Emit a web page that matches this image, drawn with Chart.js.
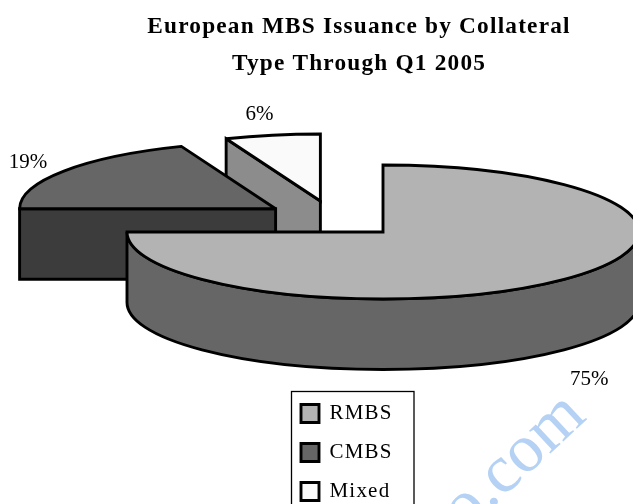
<!DOCTYPE html>
<html><head><meta charset="utf-8">
<style>html,body{margin:0;padding:0;background:#fff;overflow:hidden}canvas{display:block}</style>
<script src="https://cdn.jsdelivr.net/npm/chart.js@4"></script>
</head><body><canvas id="c" width="633" height="504"></canvas>
<script>
const titleLines = ['European MBS Issuance by Collateral', 'Type Through Q1 2005'];
const categories = ['RMBS', 'CMBS', 'Mixed'];
const shares = [75, 19, 6];
const topColors = ['#b3b3b3', '#666666', '#fafafa'];
const sideColors = ['#666666', '#3c3c3c', '#8c8c8c'];
const watermark = 'o.com';

const FONT = '"Liberation Serif", serif';
const SQUASH = 67 / 256, DEPTH = 70.5, EXPLODE = 70, LW = 2.9;
const LABEL_K = [1.14, 1.17, 1.27], LABEL_DY = [94, -2, -3];

function geom(arc) {
  const mid = (arc.startAngle + arc.endAngle) / 2;
  return {
    x: arc.x + EXPLODE * Math.cos(mid),
    y: arc.y + EXPLODE * Math.sin(mid) * SQUASH,
    r: arc.outerRadius, ry: arc.outerRadius * SQUASH,
    a: arc.startAngle, b: arc.endAngle, mid
  };
}
function paint(ctx, fill) {
  ctx.fillStyle = fill; ctx.strokeStyle = '#000'; ctx.lineWidth = LW; ctx.lineJoin = 'miter'; ctx.miterLimit = 2.5;
  ctx.fill(); ctx.stroke();
}
function radialWall(ctx, g, ang, fill) {
  const px = g.x + g.r * Math.cos(ang), py = g.y + g.ry * Math.sin(ang);
  ctx.beginPath();
  ctx.moveTo(g.x, g.y); ctx.lineTo(px, py); ctx.lineTo(px, py + DEPTH); ctx.lineTo(g.x, g.y + DEPTH); ctx.closePath();
  paint(ctx, fill);
}
const pie3d = {
  id: 'pie3d',
  afterLayout(chart) {
    const t = chart.titleBlock; t.left = 85; t.right = 633;
    const l = chart.legend; l.left = 283; l.top = 385; l.right = l.left + l.width; l.bottom = l.top + l.height;
  },
  beforeDraw(chart) { chart.ctx.letterSpacing = '1.2px'; },
  beforeDatasetsDraw(chart) {
    const ctx = chart.ctx, arcs = chart.getDatasetMeta(0).data;
    ctx.letterSpacing = '0px';
    const order = arcs.map((a, i) => i).sort((p, q) => geom(arcs[p]).y - geom(arcs[q]).y);
    ctx.save();
    order.forEach(i => {
      const g = geom(arcs[i]);
      if (Math.sin(g.a - Math.PI / 2) > 1e-6) radialWall(ctx, g, g.a, sideColors[i]);
      if (Math.sin(g.b + Math.PI / 2) > 1e-6) radialWall(ctx, g, g.b, sideColors[i]);
      const s = Math.max(g.a, 0), e = Math.min(g.b, Math.PI);
      if (e > s) {
        ctx.beginPath();
        ctx.ellipse(g.x, g.y, g.r, g.ry, 0, s, e);
        ctx.lineTo(g.x + g.r * Math.cos(e), g.y + g.ry * Math.sin(e) + DEPTH);
        ctx.ellipse(g.x, g.y + DEPTH, g.r, g.ry, 0, e, s, true);
        ctx.closePath();
        paint(ctx, sideColors[i]);
      }
      ctx.beginPath();
      ctx.moveTo(g.x, g.y);
      ctx.ellipse(g.x, g.y, g.r, g.ry, 0, g.a, g.b);
      ctx.closePath();
      paint(ctx, topColors[i]);
    });
    ctx.fillStyle = '#000';
    ctx.font = '21px ' + FONT; ctx.textAlign = 'center'; ctx.textBaseline = 'middle';
    arcs.forEach((arc, i) => {
      const g = geom(arc);
      ctx.fillText(shares[i] + '%',
        g.x + g.r * LABEL_K[i] * Math.cos(g.mid),
        g.y + g.ry * LABEL_K[i] * Math.sin(g.mid) + LABEL_DY[i]);
    });
    ctx.restore();
    return false;
  },
  afterDraw(chart) {
    const ctx = chart.ctx, l = chart.legend;
    ctx.save();
    ctx.strokeStyle = '#000'; ctx.lineWidth = 1.3;
    ctx.strokeRect(l.left + 8.5, l.top + 6.5, 122.5, 140);
    ctx.translate(465, 533);
    ctx.rotate(-43 * Math.PI / 180);
    ctx.fillStyle = '#b5d2f4';
    ctx.font = '68px ' + FONT; ctx.textAlign = 'left'; ctx.textBaseline = 'alphabetic';
    ctx.fillText(watermark, 0, 0);
    ctx.restore();
  }
};
new Chart(document.getElementById('c'), {
  type: 'pie',
  data: { labels: categories, datasets: [{ data: shares, backgroundColor: topColors, borderColor: '#000', borderWidth: LW }] },
  plugins: [pie3d],
  options: {
    responsive: false, animation: false, radius: 256,
    layout: { padding: { left: 34, right: 0, top: 0, bottom: 148 } },
    plugins: {
      tooltip: { enabled: false },
      title: { display: true, text: titleLines, color: '#000', padding: { top: 8, bottom: 0 },
        font: { family: FONT, size: 23.3, weight: 'bold', lineHeight: 37 / 23.3 } },
      legend: { position: 'chartArea', align: 'start',
        labels: { boxWidth: 18, boxHeight: 18, padding: 18, color: '#000', font: { family: FONT, size: 21 } } }
    }
  }
});
</script></body></html>
